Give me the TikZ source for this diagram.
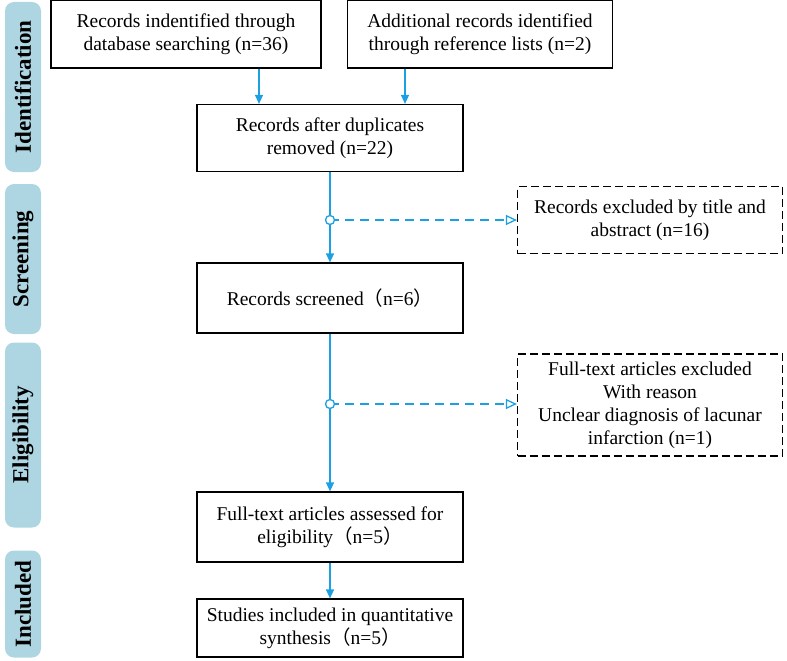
\documentclass[tikz,border=0pt]{standalone}
\usepackage{fontspec}
\setmainfont{Liberation Serif}
\newfontfamily\cjk{Noto Sans CJK SC}
\usetikzlibrary{arrows.meta,positioning,calc}
\definecolor{flowblue}{RGB}{27,161,226}
\definecolor{bandblue}{RGB}{174,214,226}
\newcommand{\lp}{{\cjk （}}
\newcommand{\rp}{{\cjk ）}}
\begin{document}
\begin{tikzpicture}[x=1pt,y=-1pt, every node/.style={font=\fontsize{19.5}{23}\selectfont},
    box/.style={draw, line width=1.2pt, align=center, minimum width=266pt, inner sep=2pt},
    dbox/.style={draw, line width=1.2pt, dash pattern=on 8pt off 4pt, align=center, minimum width=265pt, inner sep=2pt},
    band/.style={fill=bandblue, rounded corners=9pt, minimum height=36pt, rotate=90, font=\fontsize{23}{26}\selectfont\bfseries},
    flow/.style={flowblue, line width=1.3pt, -{Triangle[length=9pt,width=8pt]}},
    side/.style={flowblue, line width=1.3pt, dash pattern=on 9pt off 6pt, -{Triangle[open,length=11pt,width=10pt]}}]
            \useasboundingbox (0,0) rectangle (787,661);
            % Side bands
            \node[band, minimum width=170pt] (bId) at (23,87) {Identification};
            \node[band, minimum width=150pt] (bSc) at (23,259) {Screening};
            \node[band, minimum width=185pt] (bEl) at (23,435) {Eligibility};
            \node[band, minimum width=107pt] (bIn) at (23,604) {Included};

            % Boxes
            \node[box, minimum width=270pt, minimum height=68pt] (db) at (186,34) {Records indentified through\\database searching (n=36)};
            \node[box, minimum width=265pt, minimum height=68pt] (ref) at (480,34) {Additional records identified\\through reference lists (n=2)};
            \node[box, minimum height=67pt] (dup) at (330,138) {Records after duplicates\\removed (n=22)};
            \node[box, minimum height=70pt] (scr) at (330,298) {Records screened\lp n=6\rp};
            \node[box, minimum height=70pt] (full) at (330,527) {Full-text articles assessed for\\eligibility\lp n=5\rp};
            \node[box, minimum height=58pt] (incl) at (330,628) {Studies included in quantitative\\synthesis\lp n=5\rp};
            \node[dbox, minimum height=67pt] (exc1) at (650,220) {Records excluded by title and\\abstract (n=16)};
            \node[dbox, minimum height=102pt] (exc2) at (650,405) {Full-text articles excluded\\With reason\\Unclear diagnosis of lacunar\\infarction (n=1)};

            % Connectors
            \coordinate (j1) at (330,220);
            \coordinate (j2) at (330,404);
            \draw[flow] (db.south -| 259,0) -- (dup.north -| 259,0);
            \draw[flow] (ref.south -| 405,0) -- (dup.north -| 405,0);
            \draw[flow] (dup) -- (scr);
            \draw[flow] (scr) -- (full);
            \draw[flow] (full) -- (incl);
            \draw[side] (j1) -- (exc1.west |- j1);
            \draw[side] (j2) -- (exc2.west |- j2);
            \draw[flowblue, line width=1.3pt, fill=white] (j1) circle (4.5pt) (j2) circle (4.5pt);
\end{tikzpicture}
\end{document}
